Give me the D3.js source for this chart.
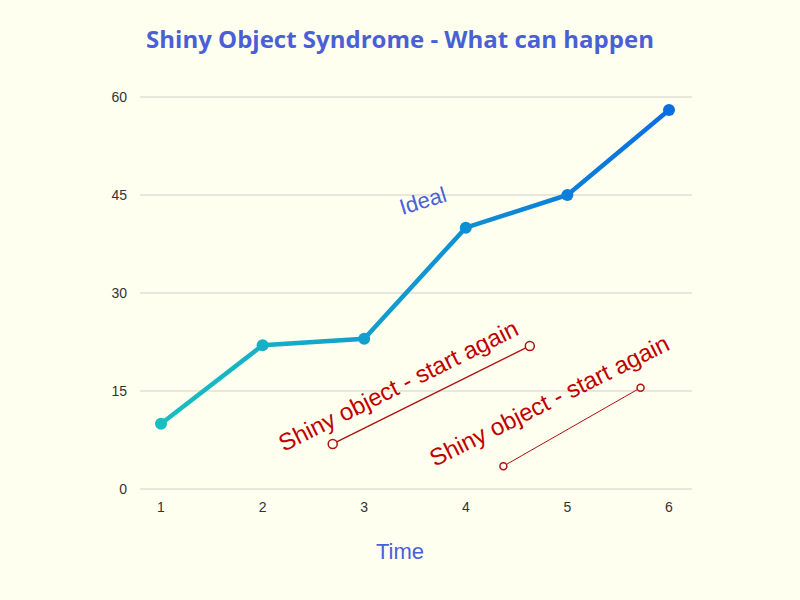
<!DOCTYPE html><html><head><script src="https://cdn.jsdelivr.net/npm/d3@7"></script>
<style>body{margin:0;background:#fffff0}</style></head><body><svg id="c" width="800" height="600"></svg>
<script>
const xVals=[1,2,3,4,5,6];
const ideal=[10,22,23,40,45,58];
const yTicks=[0,15,30,45,60];
const shiny1=[[2.69,6.9],[4.63,21.9]];
const shiny2=[[4.37,3.5],[5.72,15.5]];
const svg=d3.select("#c");
svg.append("rect").attr("width",800).attr("height",600).attr("fill","#fffff0");
const x=d3.scaleLinear().domain([1,6]).range([161,669]);
const y=d3.scaleLinear().domain([0,60]).range([489,97]);
const g=svg.append("g");
yTicks.forEach(t=>{
 g.append("line").attr("x1",140).attr("x2",692).attr("y1",y(t)).attr("y2",y(t)).attr("stroke","#cfcfc4").attr("stroke-width",1);
 g.append("text").attr("x",127).attr("y",y(t)+5).attr("text-anchor","end").attr("font-family","Liberation Sans").attr("font-size",14).attr("fill","#333").text(t);
});
xVals.forEach(t=>g.append("text").attr("x",x(t)).attr("y",512).attr("text-anchor","middle").attr("font-family","Liberation Sans").attr("font-size",14).attr("fill","#333").text(t));
const grad=svg.append("defs").append("linearGradient").attr("id","gr").attr("gradientUnits","userSpaceOnUse")
 .attr("x1",x(1)).attr("x2",x(6)).attr("y1",0).attr("y2",0);
grad.append("stop").attr("offset","0%").attr("stop-color","#17c0c0");
grad.append("stop").attr("offset","100%").attr("stop-color","#0a6ee0");
const pts=xVals.map((v,i)=>[v,ideal[i]]);
svg.append("path").attr("d",d3.line().x(d=>x(d[0])).y(d=>y(d[1]))(pts)).attr("fill","none").attr("stroke","url(#gr)").attr("stroke-width",4.5);
const col=d3.interpolateRgb("#17c0c0","#0a6ee0");
svg.selectAll(".p").data(pts).join("circle").attr("cx",d=>x(d[0])).attr("cy",d=>y(d[1])).attr("r",6).attr("fill",(d,i)=>col(i/5));
[shiny1,shiny2].forEach((s,k)=>{
 svg.append("line").attr("x1",x(s[0][0])).attr("y1",y(s[0][1])).attr("x2",x(s[1][0])).attr("y2",y(s[1][1])).attr("stroke","#b01010").attr("stroke-width",k?1:1.5);
 s.forEach(d=>svg.append("circle").attr("cx",x(d[0])).attr("cy",y(d[1])).attr("r",k?3.5:4.5).attr("fill","#fffff0").attr("stroke","#b01010").attr("stroke-width",1.5));
});
function rt(t,cx,cy,a,c,fs){svg.append("text").attr("transform",`translate(${cx},${cy}) rotate(${a})`).attr("text-anchor","middle").attr("font-family","Liberation Sans").attr("font-size",fs).attr("fill",c).text(t);}
rt("Shiny object - start again",402,393,-26.5,"#c00000",24);
rt("Shiny object - start again",553,408,-26.5,"#c00000",24);
rt("Ideal",425,208,-17,"#4a60d6",22);
svg.append("text").attr("x",400).attr("y",48).attr("text-anchor","middle").attr("font-family","Open Sans").attr("font-weight","bold").attr("font-size",24).attr("fill","#4a5fd6").text("Shiny Object Syndrome - What can happen");
svg.append("text").attr("x",400).attr("y",559).attr("text-anchor","middle").attr("font-family","Liberation Sans").attr("font-size",22).attr("fill","#4a60d6").text("Time");
</script></body></html>
